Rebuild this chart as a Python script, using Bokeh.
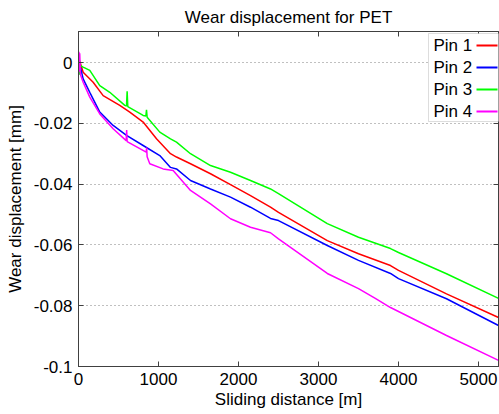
from bokeh.plotting import figure
from bokeh.models import Range1d, FixedTicker, LinearAxis, BoxAnnotation, Label
from bokeh.embed import file_html
from bokeh.resources import INLINE

FONT = "Liberation Sans"

# ---- data (sliding distance in m, wear displacement in mm) ----
pin1_dist = [0, 15, 58, 183, 308, 516, 641, 808, 975, 1150, 1225, 1400, 1650,
             1900, 2150, 2400, 2500, 3110, 3500, 3900, 4000, 4600, 5250]
pin1_wear = [0, 0.0005, -0.0032, -0.0065, -0.0109, -0.0141, -0.0163, -0.0196,
             -0.0251, -0.0300, -0.0311, -0.0333, -0.0366, -0.0402, -0.0438,
             -0.0476, -0.0493, -0.0586, -0.0629, -0.0668, -0.0684, -0.0761, -0.0839]

pin2_dist = [0, 20, 58, 141, 266, 433, 600, 808, 1016, 1150, 1225, 1400, 1650,
             1900, 2150, 2400, 2500, 3110, 3500, 3900, 4000, 4600, 5250]
pin2_wear = [0, -0.001, -0.0054, -0.0098, -0.0163, -0.0207, -0.0240, -0.0273,
             -0.0306, -0.0345, -0.0350, -0.0388, -0.0416, -0.0443, -0.0476,
             -0.0513, -0.0520, -0.0602, -0.0651, -0.0694, -0.0711, -0.0777, -0.0865]

pin3_dist = [0, 10, 25, 58, 141, 266, 391, 579, 600, 608, 616, 808, 842, 850,
             858, 1016, 1150, 1225, 1400, 1650, 1900, 2150, 2400, 2500, 3110,
             3500, 3900, 4000, 4600, 5250]
pin3_wear = [0, -0.004, -0.001, -0.0015, -0.0026, -0.0076, -0.0098, -0.0141,
             -0.0143, -0.0095, -0.0145, -0.0174, -0.0176, -0.0156, -0.0180,
             -0.0229, -0.0251, -0.0262, -0.0300, -0.0339, -0.0361, -0.0388,
             -0.0416, -0.0431, -0.0530, -0.0575, -0.0612, -0.0625, -0.0695, -0.0776]

pin4_dist = [0, 5, 10, 15, 25, 58, 141, 266, 433, 596, 602, 608, 846, 852, 858,
             891, 1058, 1183, 1400, 1650, 1900, 2150, 2400, 2500, 3110, 3500,
             3710, 3900, 4600, 5250]
pin4_wear = [0, 0.0035, -0.003, 0.003, -0.004, -0.0065, -0.0114, -0.0169,
             -0.0218, -0.0257, -0.0222, -0.0260, -0.0295, -0.0280, -0.0310,
             -0.0333, -0.0350, -0.0355, -0.0421, -0.0465, -0.0514, -0.0542,
             -0.0560, -0.0580, -0.0694, -0.0744, -0.0776, -0.0806, -0.0898, -0.0980]

series_names = ["Pin 1", "Pin 2", "Pin 3", "Pin 4"]
series_colors = ["#ff0000", "#0000ff", "#00ff00", "#ff00ff"]

x_ticks = [0, 1000, 2000, 3000, 4000, 5000]
y_ticks = [-0.1, -0.08, -0.06, -0.04, -0.02, 0]
y_tick_labels = ["-0.1", "-0.08", "-0.06", "-0.04", "-0.02", "0"]

AX = "#404040"

p = figure(width=499, height=414, output_backend="svg", toolbar_location=None,
           x_range=Range1d(0, 5250), y_range=Range1d(-0.1, 0.0102),
           min_border_left=78, min_border_right=1, min_border_top=31,
           min_border_bottom=48, title="Wear displacement for PET")

p.title.text_font = FONT
p.title.text_font_size = "17px"
p.title.text_font_style = "normal"
p.title.align = "center"
p.title.text_color = "black"

p.outline_line_color = AX
p.background_fill_color = "white"
p.border_fill_color = "white"

for ax in (p.xaxis[0], p.yaxis[0]):
    ax.major_tick_in = 5
    ax.major_tick_out = 0
    ax.minor_tick_in = 0
    ax.minor_tick_out = 0
    ax.axis_line_color = AX
    ax.major_tick_line_color = AX
    ax.major_label_text_font = FONT
    ax.major_label_text_font_size = "17px"
    ax.major_label_text_color = "black"
    ax.axis_label_text_font = FONT
    ax.axis_label_text_font_size = "17px"
    ax.axis_label_text_font_style = "normal"
    ax.axis_label_text_color = "black"

p.xaxis[0].ticker = FixedTicker(ticks=x_ticks)
p.yaxis[0].ticker = FixedTicker(ticks=y_ticks)
p.yaxis[0].major_label_overrides = {t: s for t, s in zip(y_ticks, y_tick_labels)}
p.xaxis[0].axis_label = "Sliding distance [m]"
p.yaxis[0].axis_label = "Wear displacement [mm]"
p.xaxis[0].major_label_standoff = 6
p.yaxis[0].major_label_standoff = 6
p.xaxis[0].axis_label_standoff = 2
p.yaxis[0].axis_label_standoff = 6

# mirrored tick marks on the top and right edges, without labels
top_axis = LinearAxis(ticker=FixedTicker(ticks=x_ticks), major_tick_in=5,
                      major_tick_out=0, minor_tick_in=0, minor_tick_out=0,
                      major_label_overrides={t: "" for t in x_ticks},
                      major_label_standoff=0,
                      axis_line_color=AX, major_tick_line_color=AX)
right_axis = LinearAxis(ticker=FixedTicker(ticks=y_ticks), major_tick_in=5,
                        major_tick_out=0, minor_tick_in=0, minor_tick_out=0,
                        major_label_overrides={t: "" for t in y_ticks},
                        major_label_standoff=0,
                        axis_line_color=AX, major_tick_line_color=AX)
p.add_layout(top_axis, "above")
p.add_layout(right_axis, "right")

p.xgrid.grid_line_color = None
p.ygrid.ticker = FixedTicker(ticks=y_ticks)
p.ygrid.grid_line_color = "#808080"
p.ygrid.grid_line_dash = "1 3"
p.ygrid.grid_line_width = 1

all_dist = [pin1_dist, pin2_dist, pin3_dist, pin4_dist]
all_wear = [pin1_wear, pin2_wear, pin3_wear, pin4_wear]
for d, w, c in zip(all_dist, all_wear, series_colors):
    p.line(d, w, line_color=c, line_width=1.5)

# ---- legend (text left, line sample right), in screen units of the frame ----
SU = dict(left_units="screen", right_units="screen", top_units="screen",
          bottom_units="screen")
p.add_layout(BoxAnnotation(left=350, right=421, top=333, bottom=245,
                           fill_color="white", fill_alpha=1.0,
                           line_color="#909090", line_width=1, **SU))
row_y = [321, 299, 277, 255]
for name, c, ry in zip(series_names, series_colors, row_y):
    p.add_layout(Label(x=355, y=ry, x_units="screen", y_units="screen",
                       text=name, text_font=FONT, text_font_size="17px",
                       text_baseline="middle", text_color="black"))
    p.add_layout(BoxAnnotation(left=398, right=419, bottom=ry - 1, top=ry + 1,
                               fill_color=c, fill_alpha=1.0, line_alpha=0, **SU))

open("out.html", "w").write(file_html(p, INLINE))
